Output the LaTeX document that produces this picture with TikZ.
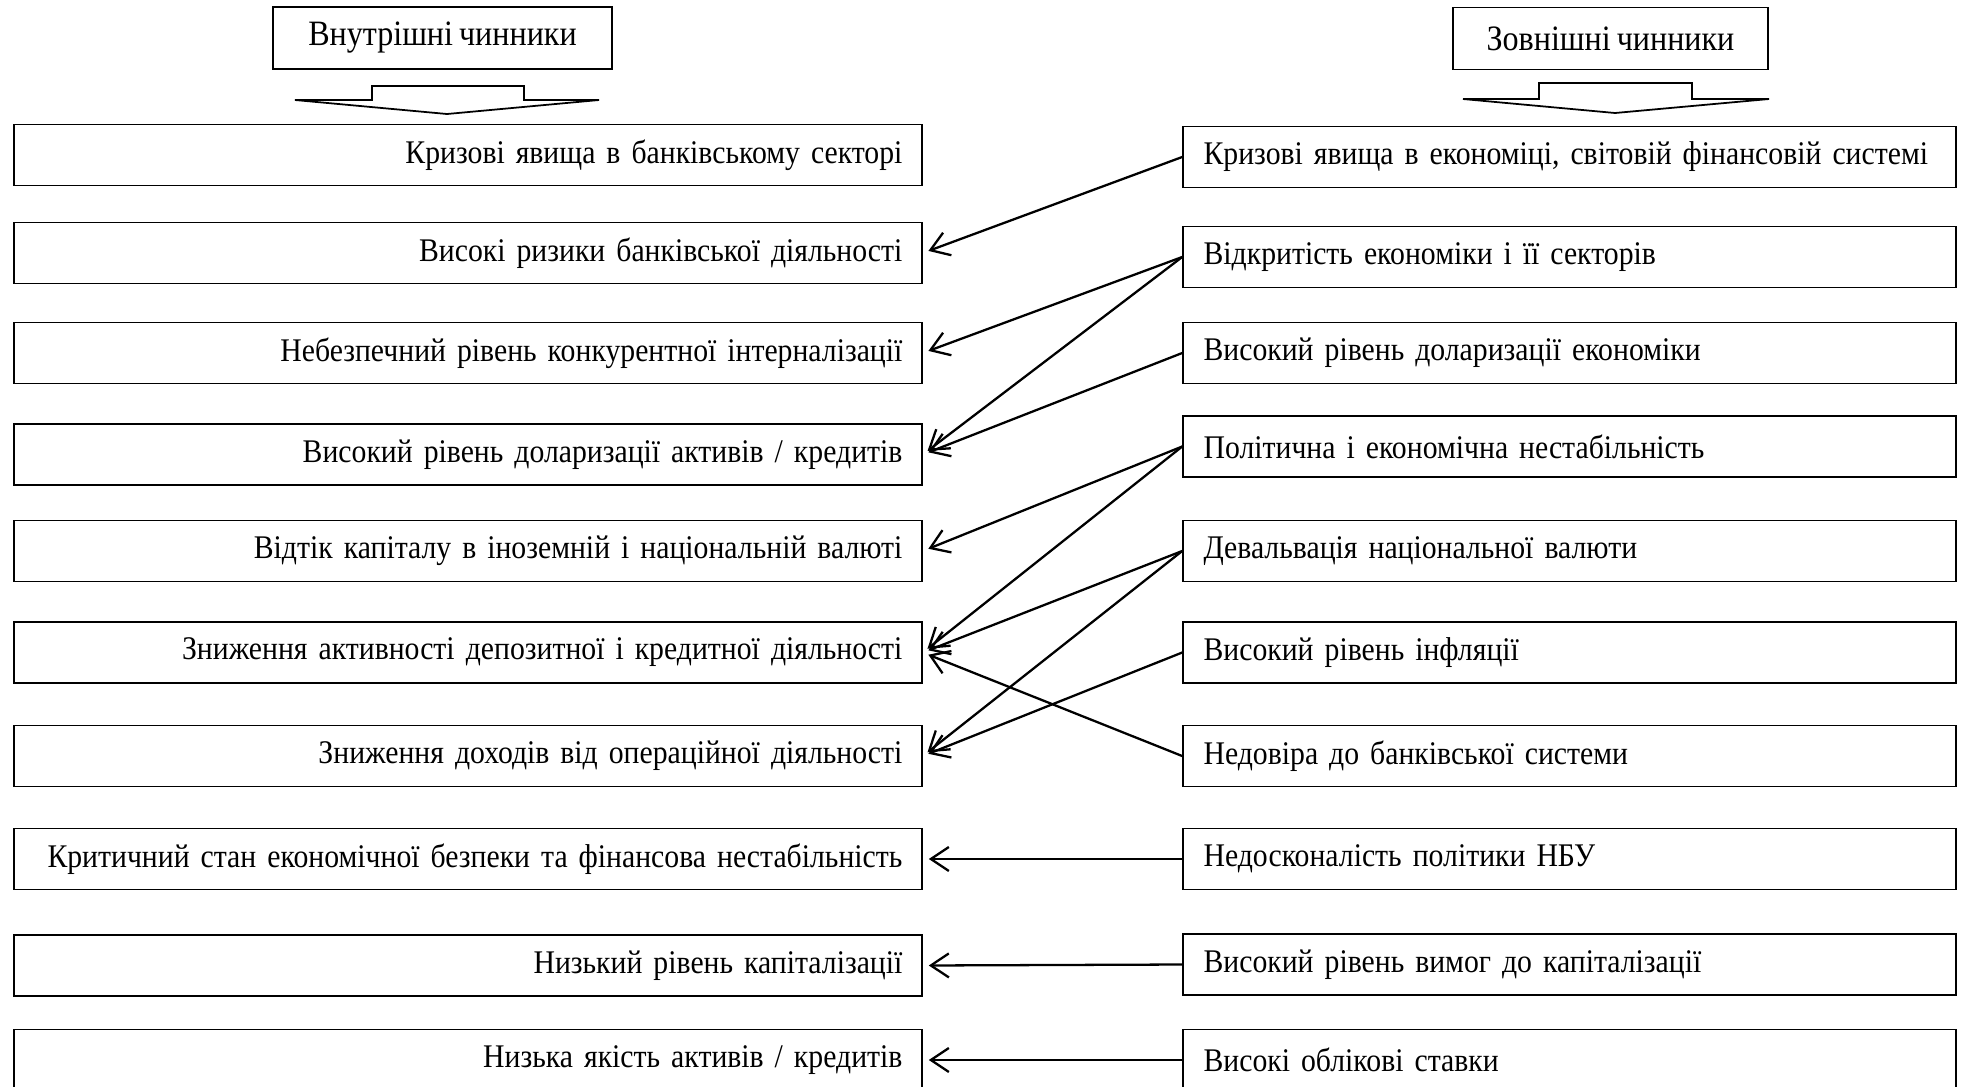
\documentclass[tikz,border=0pt]{standalone}
\usepackage{fontspec}
\setmainfont{Liberation Serif}[FakeStretch=0.9, WordSpace=0.75]
\usetikzlibrary{arrows.meta}

\tikzset{
	txt/.style={font=\fontsize{18.8}{22}\selectfont},
	lbox/.style={draw, line width=1pt, txt, text width=17.78cm, inner xsep=0.19cm, align=right, minimum height=1.22cm,
		execute at end node={\hspace*{0.2cm}}},
	rbox/.style={draw, line width=1pt, txt, text width=15.08cm, inner xsep=0.19cm, align=left, minimum height=1.22cm,
		execute at begin node={\leavevmode\hspace*{0.22cm}}},
	hbox/.style={draw, line width=1pt, font=\fontsize{20.3}{24}\selectfont, minimum height=1.24cm},
	link/.style={line width=1.3pt, -{Straight Barb[length=0.36cm,width=0.48cm]}, shorten >=0.12cm}
}

\begin{document}
\begin{tikzpicture}[x=0.02cm, y=-0.02cm]
		\useasboundingbox (0,0) rectangle (1964,1086);
		\clip (0,0) rectangle (1964,1086);
		
		% Headers
		\node[hbox, minimum width=6.78cm] (hin) at (442.5,38) {Внутрішні чинники};
		\node[hbox, minimum width=6.3cm] (hout) at (1610.5,38.5) {Зовнішні чинники};
		
		% Header arrows
		\draw[line width=1pt] (295,100) -- (372,100) -- (372,86) -- (524,86) -- (524,100) -- (599,100) -- (447,114) -- cycle;
		\draw[line width=1pt] (1463,99) -- (1539,99) -- (1539,83) -- (1692,83) -- (1692,99) -- (1769,99) -- (1615,113) -- cycle;
		
		% Internal factors
		\node[lbox] (l1) at (468,155) {Кризові явища в банківському секторі};
		\node[lbox] (l2) at (468,253) {Високі ризики банківської діяльності};
		\node[lbox] (l3) at (468,353) {Небезпечний рівень конкурентної інтерналізації};
		\node[lbox] (l4) at (468,454.5) {Високий рівень доларизації активів / кредитів};
		\node[lbox] (l5) at (468,551) {Відтік капіталу в іноземній і національній валюті};
		\node[lbox] (l6) at (468,652.5) {Зниження активності депозитної і кредитної діяльності};
		\node[lbox] (l7) at (468,756) {Зниження доходів від операційної діяльності};
		\node[lbox] (l8) at (468,859) {Критичний стан економічної безпеки та фінансова нестабільність};
		\node[lbox] (l9) at (468,965.5) {Низький рівень капіталізації};
		\node[lbox] (l10) at (468,1060) {Низька якість активів / кредитів};
		
		% External factors
		\node[rbox] (r1) at (1569.5,157) {Кризові явища в економіці, світовій фінансовій системі};
		\node[rbox] (r2) at (1569.5,257) {Відкритість економіки і її секторів};
		\node[rbox] (r3) at (1569.5,353) {Високий рівень доларизації економіки};
		\node[rbox] (r4) at (1569.5,446.5) {Політична і економічна нестабільність};
		\node[rbox] (r5) at (1569.5,551) {Девальвація національної валюти};
		\node[rbox] (r6) at (1569.5,652.5) {Високий рівень інфляції};
		\node[rbox] (r7) at (1569.5,756) {Недовіра до банківської системи};
		\node[rbox] (r8) at (1569.5,859) {Недосконалість політики НБУ};
		\node[rbox] (r9) at (1569.5,964.5) {Високий рівень вимог до капіталізації};
		\node[rbox] (r10) at (1569.5,1060) {Високі облікові ставки};
		
		% Links
		\draw[link] (r1.west) -- (l2.east);
		\draw[link] (r2.west) -- (l3.east);
		\draw[link] (r2.west) -- (l4.east);
		\draw[link] (r3.west) -- (l4.east);
		\draw[link] (r4.west) -- (l5.east);
		\draw[link] (r4.west) -- (l6.east);
		\draw[link] (r5.west) -- (l6.east);
		\draw[link] (r5.west) -- (l7.east);
		\draw[link] (r6.west) -- (l7.east);
		\draw[link] (r7.west) -- (l6.east);
		\draw[link] (r8.west) -- (l8.east);
		\draw[link] (r9.west) -- (l9.east);
		\draw[link] (r10.west) -- (l10.east);
	\end{tikzpicture}
\end{document}
